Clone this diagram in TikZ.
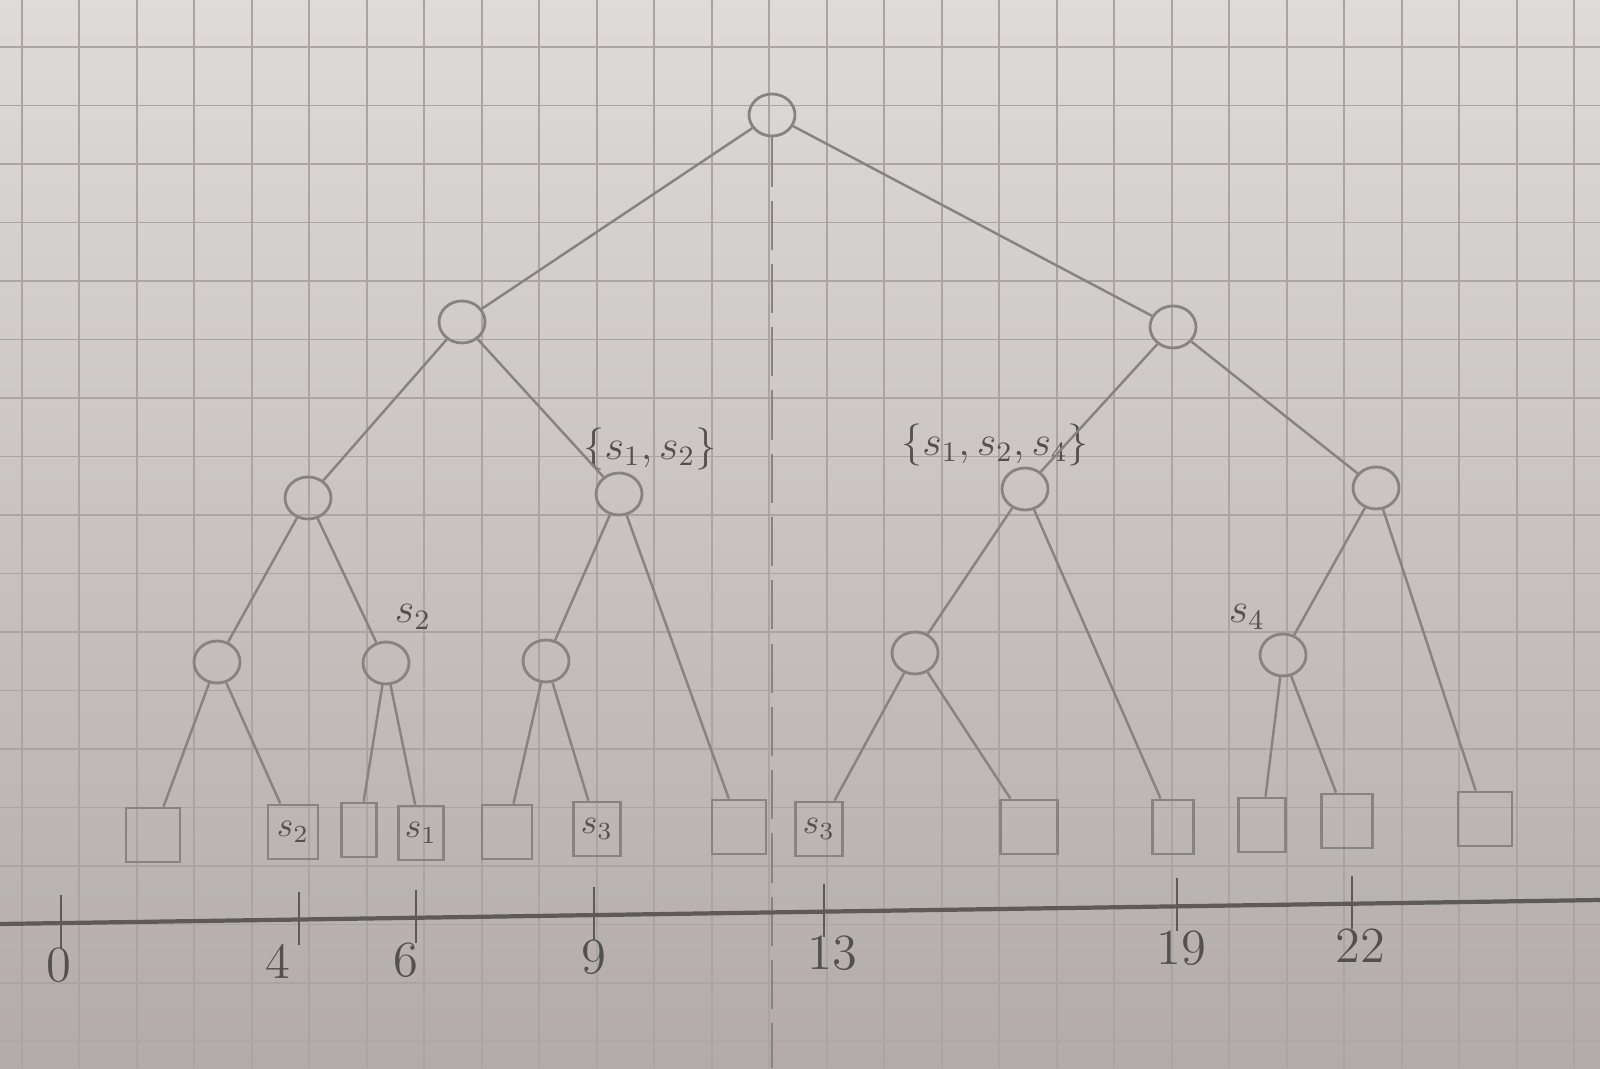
\documentclass[tikz,border=0pt]{standalone}
\usetikzlibrary{shapes.geometric}
\definecolor{paper}{RGB}{222,219,218}
\definecolor{paperdark}{RGB}{178,171,169}
\definecolor{gridline}{RGB}{170,165,164}
\definecolor{pencil}{RGB}{136,131,131}
\definecolor{lead}{RGB}{84,80,80}

\begin{document}
\begin{tikzpicture}[
            inner/.style={ellipse, draw=pencil, line width=0.8pt, minimum width=0.46cm, minimum height=0.42cm, inner sep=0pt},
            leaf/.style={rectangle, draw=pencil, line width=0.8pt, minimum width=0.54cm, minimum height=0.54cm, inner sep=0pt, text=lead},
            edge/.style={draw=pencil, line width=0.7pt},
            tag/.style={text=lead, font=\large},
            numlabel/.style={text=lead, font=\Large}
        ]
            \useasboundingbox (0,0) rectangle (16,10.68);
            % squared paper
            \shade[top color=paper, bottom color=paperdark] (0,0) rectangle (16,10.68);
            \foreach \gx in {0,...,27}
                \draw[gridline, line width=0.5pt] ({0.218+0.575*\gx},0) -- ++(0,10.68);
            \foreach \gy in {-3,...,14}
                \draw[gridline, line width=0.5pt] (0,{2.02+0.585*\gy}) -- ++(16,0);

            % inner nodes
            \node[inner] (root) at (7.72,9.53) {};
            \node[inner] (a) at (4.62,7.46) {};
            \node[inner] (b) at (11.73,7.41) {};
            \node[inner] (aa) at (3.08,5.70) {};
            \node[inner] (ab) at (6.19,5.74) {};
            \node[inner] (ba) at (10.25,5.79) {};
            \node[inner] (bb) at (13.76,5.80) {};
            \node[inner] (aaa) at (2.17,4.06) {};
            \node[inner] (aab) at (3.86,4.05) {};
            \node[inner] (aba) at (5.46,4.07) {};
            \node[inner] (baa) at (9.15,4.15) {};
            \node[inner] (bba) at (12.83,4.13) {};

            % leaves
            \node[leaf] (l1) at (1.53,2.33) {};
            \node[leaf, minimum width=0.50cm] (l2) at (2.93,2.36) {$s_2$};
            \node[leaf, minimum width=0.35cm] (l3) at (3.59,2.38) {};
            \node[leaf, minimum width=0.45cm] (l4) at (4.21,2.35) {$s_1$};
            \node[leaf, minimum width=0.50cm] (l5) at (5.07,2.36) {};
            \node[leaf, minimum width=0.47cm] (l6) at (5.97,2.39) {$s_3$};
            \node[leaf] (l7) at (7.39,2.41) {};
            \node[leaf, minimum width=0.47cm] (l8) at (8.19,2.39) {$s_3$};
            \node[leaf, minimum width=0.57cm] (l9) at (10.29,2.41) {};
            \node[leaf, minimum width=0.41cm] (l10) at (11.73,2.41) {};
            \node[leaf, minimum width=0.47cm] (l11) at (12.62,2.43) {};
            \node[leaf, minimum width=0.51cm] (l12) at (13.47,2.47) {};
            \node[leaf] (l13) at (14.85,2.49) {};

            % stored segments
            \node[tag] (tab) at (6.50,6.19) {$\{s_1,s_2\}$};
            \node[tag] (tba) at (9.95,6.23) {$\{s_1,s_2,s_4\}$};
            \node[tag] (taab) at (4.13,4.51) {$s_2$};
            \node[tag] (tbba) at (12.47,4.51) {$s_4$};

            % tree
            \draw[edge] (root) -- (a);
            \draw[edge] (root) -- (b);
            \draw[edge] (a) -- (aa);
            \draw[edge] (a) -- (ab);
            \draw[edge] (b) -- (ba);
            \draw[edge] (b) -- (bb);
            \draw[edge] (aa) -- (aaa);
            \draw[edge] (aa) -- (aab);
            \draw[edge] (ab) -- (aba);
            \draw[edge] (ab) -- (l7);
            \draw[edge] (ba) -- (baa);
            \draw[edge] (ba) -- (l10);
            \draw[edge] (bb) -- (bba);
            \draw[edge] (bb) -- (l13);
            \draw[edge] (aaa) -- (l1);
            \draw[edge] (aaa) -- (l2);
            \draw[edge] (aab) -- (l3);
            \draw[edge] (aab) -- (l4);
            \draw[edge] (aba) -- (l5);
            \draw[edge] (aba) -- (l6);
            \draw[edge] (baa) -- (l8);
            \draw[edge] (baa) -- (l9);
            \draw[edge] (bba) -- (l11);
            \draw[edge] (bba) -- (l12);

            % split line under the root
            \coordinate (foot) at (7.72,0);
            \draw[pencil, line width=0.8pt, dash pattern=on 14pt off 4pt] (root) -- (foot);

            % number line
            \coordinate (axl) at (0,1.44);
            \coordinate (axr) at (16,1.68);
            \draw[lead!80!pencil, line width=1.2pt] (axl) -- (axr);
            \foreach \tx/\lx/\tl in {0.61/0.59/0, 2.99/2.78/4, 4.16/4.06/6, 5.94/5.94/9, 8.24/8.32/13, 11.77/11.81/19, 13.52/13.60/22} {
                \coordinate (tk\tl) at (\tx,{1.44+0.015*\tx});
                \draw[lead!80!pencil, line width=0.8pt] ([yshift=-0.25cm]tk\tl) -- ([yshift=0.28cm]tk\tl);
                \node[numlabel] (n\tl) at (\lx,{1.02+0.015*\lx}) {\tl};
            }
        \end{tikzpicture}
\end{document}
